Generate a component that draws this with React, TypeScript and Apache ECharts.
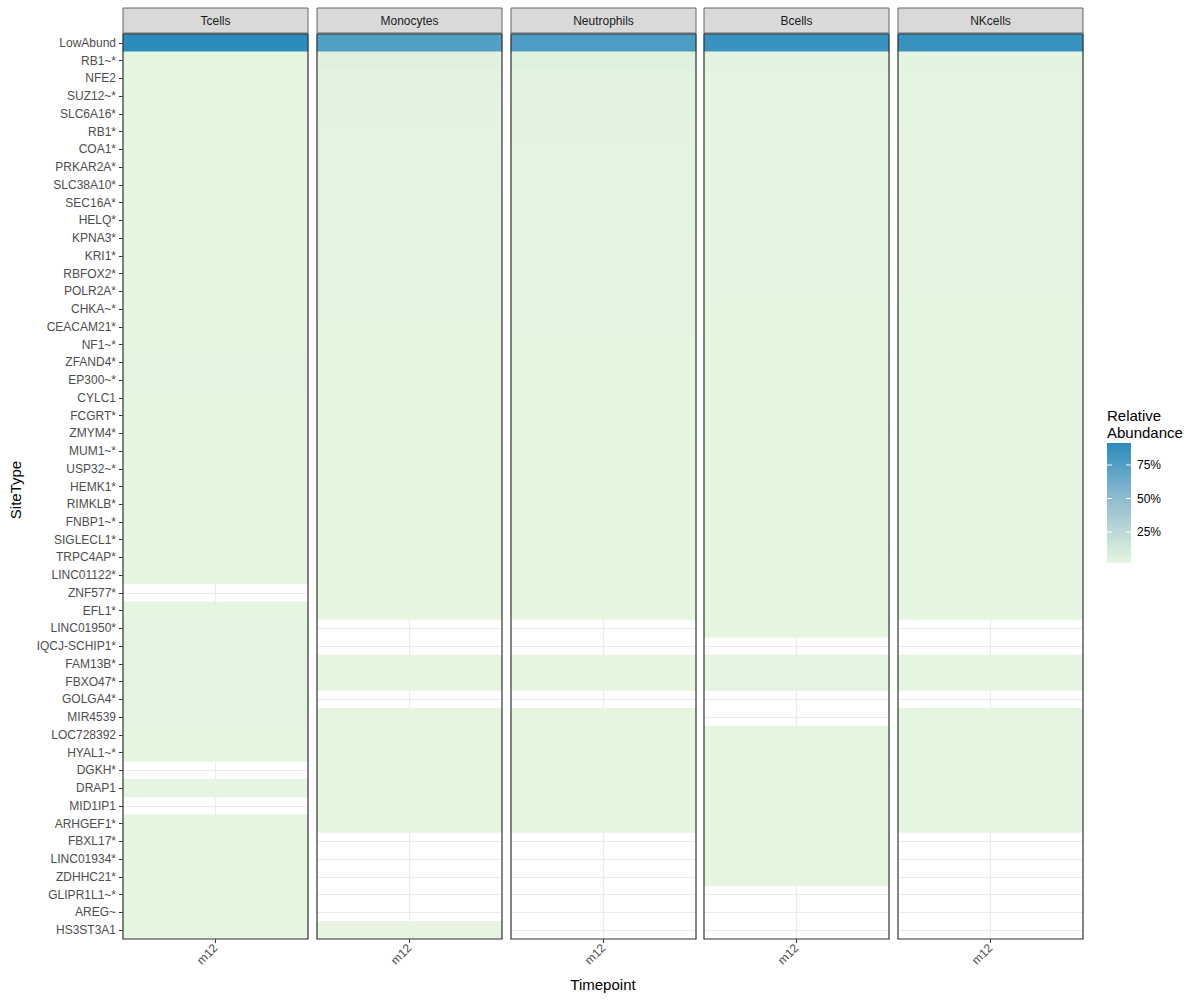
import React, { useEffect, useRef } from "react";
import * as echarts from "echarts";

// ---------------- data ----------------
const siteTypes = [
  "LowAbund", "RB1~*", "NFE2", "SUZ12~*", "SLC6A16*", "RB1*", "COA1*", "PRKAR2A*",
  "SLC38A10*", "SEC16A*", "HELQ*", "KPNA3*", "KRI1*", "RBFOX2*", "POLR2A*", "CHKA~*",
  "CEACAM21*", "NF1~*", "ZFAND4*", "EP300~*", "CYLC1", "FCGRT*", "ZMYM4*", "MUM1~*",
  "USP32~*", "HEMK1*", "RIMKLB*", "FNBP1~*", "SIGLECL1*", "TRPC4AP*", "LINC01122*",
  "ZNF577*", "EFL1*", "LINC01950*", "IQCJ-SCHIP1*", "FAM13B*", "FBXO47*", "GOLGA4*",
  "MIR4539", "LOC728392", "HYAL1~*", "DGKH*", "DRAP1", "MID1IP1", "ARHGEF1*", "FBXL17*",
  "LINC01934*", "ZDHHC21*", "GLIPR1L1~*", "AREG~", "HS3ST3A1",
];
const panels = ["Tcells", "Monocytes", "Neutrophils", "Bcells", "NKcells"];
const timepoints = ["m12"];

const N = null;
// relative abundance (%) per site type, one array per cell type
const tcells = [
  91.4, 2.3, 2.2, 2.2, 2.2, 2.2, 2.2, 2.2, 2.2, 2.2, 2.2, 2.2, 2.2, 2.2, 2.2, 2.2,
  2.2, 2.2, 2.4, 3.0, 2.3, 2.2, 2.2, 2.2, 2.2, 2.2, 2.2, 2.2, 2.2, 2.2, 2.2,
  N, 2.3, 2.8, 2.6, 2.4, 2.4, 2.8, 2.4, 2.3, 2.3, N, 2.3, N, 2.2, 2.2,
  2.2, 2.2, 2.2, 2.2, 2.2,
];
const monocytes = [
  75.0, 4.6, 3.8, 3.4, 3.2, 3.0, 3.0, 2.9, 2.8, 2.7, 2.6, 2.6, 2.5, 2.5, 2.4, 2.4,
  2.3, 2.3, 2.3, 2.2, 2.2, 2.2, 2.2, 2.2, 2.1, 2.1, 2.1, 2.1, 2.1, 2.0, 2.0,
  2.0, 2.0, N, N, 2.0, 2.0, N, 1.9, 1.9, 1.9, 1.9, 1.9, 1.9, 1.9, N,
  N, N, N, N, 1.9,
];
const neutrophils = [
  77.0, 5.2, 3.6, 3.5, 3.4, 3.3, 3.1, 3.0, 3.0, 2.9, 2.8, 2.7, 2.7, 2.6, 2.5, 2.4,
  2.4, 2.3, 2.3, 2.3, 2.2, 2.2, 2.2, 2.1, 2.1, 2.1, 2.1, 2.0, 2.0, 2.0, 2.0,
  2.0, 2.0, N, N, 2.0, 2.0, N, 1.9, 1.9, 1.9, 1.9, 1.9, 1.9, 1.9, N,
  N, N, N, N, N,
];
const bcells = [
  85.5, 3.2, 3.0, 2.9, 2.8, 2.8, 2.7, 2.7, 2.6, 2.6, 2.6, 2.5, 2.5, 2.4, 2.4, 2.3,
  2.3, 2.3, 2.2, 2.2, 2.2, 2.2, 2.2, 2.2, 2.2, 2.2, 2.2, 2.2, 2.2, 2.2, 2.2,
  2.2, 2.2, 2.2, N, 2.5, 2.5, N, N, 2.2, 2.2, 2.2, 2.2, 2.2, 2.2, 2.2,
  2.2, 2.2, N, N, N,
];
const nkcells = [
  85.8, 3.5, 3.0, 2.9, 2.8, 2.7, 2.7, 2.6, 2.6, 2.5, 2.5, 2.5, 2.4, 2.4, 2.4, 2.3,
  2.3, 2.3, 2.3, 2.2, 2.2, 2.2, 2.2, 2.2, 2.2, 2.2, 2.2, 2.2, 2.2, 2.2, 2.2,
  2.2, 2.2, N, N, 2.2, 2.2, N, 2.2, 2.2, 2.2, 2.2, 2.2, 2.2, 2.2, N,
  N, N, N, N, N,
];
const panelValues = [tcells, monocytes, neutrophils, bcells, nkcells];

const legendTicks = [25, 50, 75];
const colorMin = 1.9;
const colorMax = 91.4;

// ---------------- layout / style ----------------
const FONT = "'Liberation Sans', Arial, Helvetica, sans-serif";
const LOW = "#e5f5e0";
const MID = "#96bfd0";
const HIGH = "#2b8cbe";
const panelLefts = [123, 317, 511, 704, 898];
const panelW = 185;
const panelTop = 34;
const panelH = 905;
const stripTop = 8;
const stripH = 25;

const legX = 1107;
const legY = 443;
const legW = 24;
const legH = 120;

export default function App() {
  const ref = useRef<HTMLDivElement>(null);

  useEffect(() => {
    if (!ref.current) return;
    const chart = echarts.init(ref.current, null, { renderer: "svg" });

    const grids = panels.map((_, i) => ({
      left: panelLefts[i],
      top: panelTop,
      width: panelW,
      height: panelH,
      show: true,
      backgroundColor: "#ffffff",
      borderWidth: 0,
    }));

    const xAxes = panels.map((_, i) => ({
      type: "category",
      gridIndex: i,
      data: timepoints,
      axisLine: { show: false },
      axisTick: { show: true, alignWithLabel: true, length: 4, lineStyle: { color: "#333333", width: 1 } },
      axisLabel: {
        rotate: 45,
        margin: 7,
        fontSize: 12,
        color: "#4d4d4d",
        fontFamily: FONT,
      },
      splitLine: { show: true, alignWithLabel: true, lineStyle: { color: "#ebebeb", width: 1.2 } },
    }));

    const yAxes = panels.map((_, i) => ({
      type: "category",
      gridIndex: i,
      data: siteTypes,
      inverse: true,
      axisLine: { show: false },
      axisTick: { show: i === 0, alignWithLabel: true, length: 4, lineStyle: { color: "#333333", width: 1 } },
      axisLabel: {
        show: i === 0,
        margin: 7,
        fontSize: 12,
        color: "#4d4d4d",
        fontFamily: FONT,
        interval: 0,
      },
      splitLine: { show: true, alignWithLabel: true, lineStyle: { color: "#ebebeb", width: 1.2 } },
    }));

    const series = panels.map((name, i) => ({
      type: "heatmap",
      name,
      xAxisIndex: i,
      yAxisIndex: i,
      data: panelValues[i]
        .map((v, j) => (v == null ? null : [0, j, v]))
        .filter((d) => d !== null),
      itemStyle: { borderWidth: 0 },
      emphasis: { disabled: true },
    }));

    const legendY = (v: number) => legY + legH - ((v - colorMin) / (colorMax - colorMin)) * legH;

    const graphics: any[] = [];
    panels.forEach((name, i) => {
      graphics.push({
        type: "rect",
        shape: { x: panelLefts[i], y: stripTop, width: panelW, height: stripH },
        style: { fill: "#d9d9d9", stroke: "#666666", lineWidth: 1 },
        z: 100,
      });
      graphics.push({
        type: "text",
        x: panelLefts[i] + panelW / 2,
        y: stripTop + stripH / 2,
        style: {
          text: name,
          fontSize: 12,
          fontFamily: FONT,
          fill: "#1a1a1a",
          align: "center",
          verticalAlign: "middle",
        },
        z: 101,
      });
      graphics.push({
        type: "rect",
        shape: { x: panelLefts[i], y: panelTop, width: panelW, height: panelH },
        style: { fill: "none", stroke: "#333333", lineWidth: 1.2 },
        z: 100,
      });
    });

    graphics.push({
      type: "text",
      x: 603,
      y: 984,
      style: { text: "Timepoint", fontSize: 15, fontFamily: FONT, fill: "#000000", align: "center", verticalAlign: "middle" },
    });
    graphics.push({
      type: "text",
      x: 15,
      y: 490,
      rotation: Math.PI / 2,
      style: { text: "SiteType", fontSize: 15, fontFamily: FONT, fill: "#000000", align: "center", verticalAlign: "middle" },
    });

    graphics.push({
      type: "text",
      x: legX,
      y: 407,
      style: {
        text: "Relative\nAbundance",
        fontSize: 15,
        lineHeight: 17,
        fontFamily: FONT,
        fill: "#000000",
        align: "left",
        verticalAlign: "top",
      },
    });
    graphics.push({
      type: "rect",
      shape: { x: legX, y: legY, width: legW, height: legH },
      style: {
        fill: new echarts.graphic.LinearGradient(0, 1, 0, 0, [
          { offset: 0, color: LOW },
          { offset: 0.5, color: MID },
          { offset: 1, color: HIGH },
        ]),
      },
    });
    legendTicks.forEach((t) => {
      const y = legendY(t);
      graphics.push({
        type: "line",
        shape: { x1: legX, y1: y, x2: legX + 5, y2: y },
        style: { stroke: "#ffffff", lineWidth: 1 },
        z: 10,
      });
      graphics.push({
        type: "line",
        shape: { x1: legX + legW - 5, y1: y, x2: legX + legW, y2: y },
        style: { stroke: "#ffffff", lineWidth: 1 },
        z: 10,
      });
      graphics.push({
        type: "text",
        x: legX + legW + 6,
        y,
        style: {
          text: `${t}%`,
          fontSize: 12,
          fontFamily: FONT,
          fill: "#000000",
          align: "left",
          verticalAlign: "middle",
        },
      });
    });

    chart.setOption({
      animation: false,
      backgroundColor: "#ffffff",
      textStyle: { fontFamily: FONT },
      grid: grids,
      xAxis: xAxes,
      yAxis: yAxes,
      visualMap: {
        type: "continuous",
        show: false,
        min: colorMin,
        max: colorMax,
        dimension: 2,
        seriesIndex: [0, 1, 2, 3, 4],
        inRange: { color: [LOW, MID, HIGH] },
      },
      series,
      graphic: graphics,
    });

    return () => chart.dispose();
  }, []);

  return (
    <div
      ref={ref}
      style={{ position: "absolute", left: 0, top: 0, width: 1200, height: 1000 }}
    />
  );
}
